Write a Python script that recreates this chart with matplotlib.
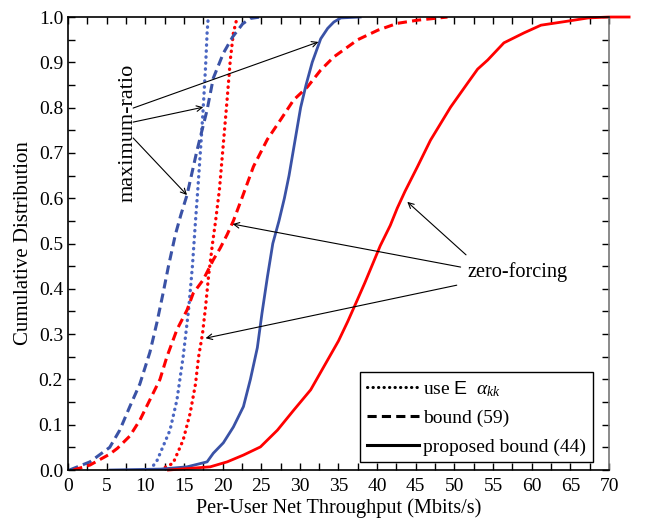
import matplotlib
matplotlib.use('Agg')
import matplotlib.pyplot as plt

plt.rcParams['font.family'] = ['Liberation Serif', 'DejaVu Serif']
plt.rcParams['mathtext.fontset'] = 'custom'
plt.rcParams['mathtext.rm'] = 'Liberation Serif'
plt.rcParams['mathtext.it'] = 'Liberation Serif:italic'
plt.rcParams['mathtext.sf'] = 'Liberation Sans'

RED = '#ff0000'
BLUE = '#3a52a6'
BLUE_DOT = '#4a66c2'

# maximum-ratio, use E alpha_kk (dotted blue)
mr_use_x = [10.6, 11.5, 13.2, 14.1, 14.9, 15.6, 16.1, 16.5, 16.8, 17.2, 17.5, 17.8, 18.0, 18.15]
mr_use_y = [0.0, 0.02, 0.088, 0.155, 0.25, 0.353, 0.45, 0.55, 0.62, 0.72, 0.80, 0.89, 0.965, 1.0]

# maximum-ratio, bound (59) (dashed blue)
mr_bnd_x = [0.2, 2.85, 5.4, 6.7, 8.0, 9.3, 10.6, 11.5, 12.3, 13.0, 13.9, 14.6, 15.4, 16.7,
            18.0, 18.8, 20.1, 21.3, 22.6, 23.6, 24.9]
mr_bnd_y = [0.0, 0.018, 0.05, 0.088, 0.14, 0.19, 0.26, 0.325, 0.39, 0.45, 0.52, 0.563, 0.607, 0.706,
            0.795, 0.865, 0.92, 0.956, 0.985, 0.997, 1.0]

# maximum-ratio, proposed bound (44) (solid blue)
mr_prop_x = [5.5, 12.0, 15.4, 18.0, 18.8, 20.1, 21.4, 22.7, 23.6, 24.5, 25.1, 25.8, 26.5, 27.3,
             28.0, 28.6, 29.1, 29.6, 30.1, 30.8, 31.6, 32.7, 33.6, 34.4, 35.3, 37.8]
mr_prop_y = [0.0, 0.002, 0.007, 0.018, 0.037, 0.06, 0.095, 0.14, 0.2, 0.27, 0.346, 0.426, 0.5, 0.55,
             0.6, 0.65, 0.7, 0.75, 0.8, 0.85, 0.9, 0.952, 0.975, 0.989, 0.998, 1.0]

# zero-forcing, use E alpha_kk (dotted red)
zf_use_x = [11.9, 13.6, 14.9, 15.8, 16.5, 16.9, 17.4, 17.8, 18.2, 18.7, 19.1, 19.6, 20.1, 20.6,
            21.0, 21.4, 21.9]
zf_use_y = [0.0, 0.015, 0.066, 0.125, 0.19, 0.25, 0.30, 0.36, 0.43, 0.50, 0.55, 0.62, 0.72, 0.82,
            0.905, 0.965, 1.0]

# zero-forcing, bound (59) (dashed red)
zf_bnd_x = [0.7, 2.85, 5.4, 6.4, 8.0, 9.3, 10.6, 11.9, 12.8, 14.1, 15.4, 16.2, 17.5, 18.8, 19.7,
            20.6, 21.4, 22.5, 24.0, 25.8, 27.5, 29.2, 31.0, 32.7, 34.4, 35.3, 37.5, 40.1, 42.6,
            45.2, 49.1]
zf_bnd_y = [0.0, 0.011, 0.035, 0.048, 0.075, 0.11, 0.155, 0.2, 0.25, 0.31, 0.353, 0.39, 0.42, 0.464,
            0.49, 0.52, 0.55, 0.6, 0.67, 0.73, 0.773, 0.817, 0.846, 0.883, 0.912, 0.923, 0.95,
            0.971, 0.986, 0.993, 1.0]

# zero-forcing, proposed bound (44) (solid red)
zf_prop_x = [13.0, 18.4, 20.6, 22.7, 24.9, 27.1, 29.2, 31.4, 33.6, 35.0, 36.2, 37.5, 38.4, 39.5,
             40.4, 41.7, 42.6, 43.6, 45.2, 46.9, 49.5, 51.7, 53.0, 54.3, 56.4, 59.0, 61.2,
             64.7, 67.3, 70.0, 72.6]
zf_prop_y = [0.0, 0.007, 0.018, 0.033, 0.051, 0.088, 0.132, 0.177, 0.243, 0.285, 0.328, 0.378, 0.413,
             0.458, 0.495, 0.54, 0.578, 0.615, 0.669, 0.728, 0.801, 0.854, 0.885, 0.905, 0.943,
             0.965, 0.982, 0.991, 0.998, 1.0, 1.0]

fig = plt.figure(figsize=(6.45, 5.19), dpi=100)
ax = fig.add_axes([0.1054, 0.0944, 0.8388, 0.8728])

DOT = (0, (0.1, 1.7))
DASH = (0, (3.0, 1.7))

ax.plot(mr_use_x, mr_use_y, color=BLUE_DOT, lw=2.4, linestyle=DOT, dash_capstyle='round')
ax.plot(zf_use_x, zf_use_y, color=RED, lw=2.4, linestyle=DOT, dash_capstyle='round')
ax.plot(mr_bnd_x, mr_bnd_y, color=BLUE, lw=2.2, linestyle=DASH)
ax.plot(zf_bnd_x, zf_bnd_y, color=RED, lw=2.2, linestyle=DASH)
ax.plot(mr_prop_x, mr_prop_y, color=BLUE, lw=2.0)
ax.plot(zf_prop_x, zf_prop_y, color=RED, lw=2.0, clip_on=False)

ax.set_xlim(0, 70)
ax.set_ylim(0, 1)
ax.set_xticks(range(0, 71, 5))
ax.set_xticks([x + 2.5 for x in range(0, 70, 5)], minor=True)
ax.set_yticks([i / 10 for i in range(11)])
ax.set_yticklabels(['%.1f' % (i / 10) for i in range(11)])
ax.set_yticks([i / 20 for i in range(1, 20, 2)], minor=True)
ax.tick_params(which='both', direction='in', top=True, right=True, length=5, width=1,
               labelsize=14)
ax.tick_params(axis='x', pad=6)
for s in ax.spines.values():
    s.set_linewidth(1.2)
ax.spines['right'].set_color('#777777')

ax.set_xlabel('Per-User Net Throughput (Mbits/s)', fontsize=14.6, labelpad=2)
ax.set_ylabel('Cumulative Distribution', fontsize=15, labelpad=4)

# annotations
ax.text(7.8, 0.744, 'maximum-ratio', rotation=90, fontsize=16, ha='center', va='center')
arrow = dict(arrowstyle='->', color='black', lw=0.8, shrinkA=0, shrinkB=0)
for (sx, sy), (tx, ty) in [((8.43, 0.799), (32.4, 0.945)),
                           ((8.43, 0.768), (17.5, 0.801)),
                           ((8.43, 0.733), (15.4, 0.607))]:
    ax.annotate('', xy=(tx, ty), xytext=(sx, sy), arrowprops=arrow)

ax.text(58.2, 0.438, 'zero-forcing', fontsize=14.6, ha='center', va='center')
for (sx, sy), (tx, ty) in [((51.5, 0.475), (43.9, 0.592)),
                           ((50.8, 0.448), (21.3, 0.543)),
                           ((50.3, 0.408), (17.8, 0.291))]:
    ax.annotate('', xy=(tx, ty), xytext=(sx, sy), arrowprops=arrow)

# legend
h1, = ax.plot([], [], color='black', lw=2.2, linestyle=DOT, dash_capstyle='round')
h2, = ax.plot([], [], color='black', lw=2.2, linestyle=DASH)
h3, = ax.plot([], [], color='black', lw=2.2)
leg = ax.legend([h1, h2, h3],
                [r'use $\mathsf{E}$  $\alpha_{kk}$', 'bound (59)', 'proposed bound (44)'],
                loc='lower right', bbox_to_anchor=(0.97, 0.017), fontsize=14,
                handlelength=2.7, handletextpad=0.2, labelspacing=0.55,
                borderpad=0.35, borderaxespad=0, fancybox=False, framealpha=1)
leg.get_frame().set_edgecolor('black')
leg.get_frame().set_linewidth(1.0)

fig.savefig('out.png', dpi=100)
